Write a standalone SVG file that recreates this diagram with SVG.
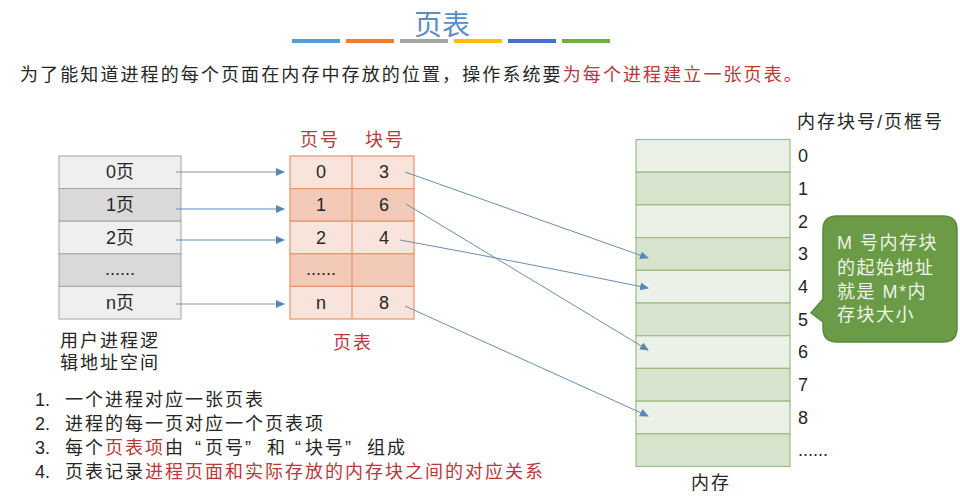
<svg xmlns="http://www.w3.org/2000/svg" width="960" height="497" viewBox="0 0 960 497">
<style>
text{font-family:"Liberation Sans","Noto Sans CJK SC",sans-serif;fill:#262626}
.cjk{font-size:18px;letter-spacing:2px}
.red{fill:#B8383B}
.cell{font-size:18px;text-anchor:middle}
.num{font-size:18px}
.lrow{stroke:#A3A3A3;stroke-width:1}
.prow{stroke:#E8946C;stroke-width:1.2}
.mrow{stroke:#9DBB82;stroke-width:1.2}
.c1{stroke:#5A8CC4;stroke-width:1.2;fill:none}
.c2{stroke:#7E97B0;stroke-width:1.1;fill:none}
.c3{stroke:#6A8DB3;stroke-width:1;fill:none}
</style>
<defs>
<marker id="ah" markerWidth="9" markerHeight="8" refX="8" refY="4" orient="auto" markerUnits="userSpaceOnUse">
<path d="M0,0 L9,4 L0,8 Z" fill="#5A86B8"/>
</marker>
</defs>
<rect width="960" height="497" fill="#FFFFFF"/>

<g id="title">
<text x="442" y="35" text-anchor="middle" style="font-size:28px;fill:#5B8EC4">页表</text>
<rect x="292" y="39" width="48" height="4" fill="#5B9BD5"/>
<rect x="346" y="39" width="48" height="4" fill="#ED7D31"/>
<rect x="400" y="39" width="48" height="4" fill="#A5A5A5"/>
<rect x="454" y="39" width="48" height="4" fill="#FFC000"/>
<rect x="508" y="39" width="48" height="4" fill="#4472C4"/>
<rect x="562" y="39" width="48" height="4" fill="#70AD47"/>
</g>

<g id="intro">
<text x="20" y="81" class="cjk" style="letter-spacing:2.1px">为了能知道进程的每个页面在内存中存放的位置，操作系统要<tspan class="red">为每个进程建立一张页表。</tspan></text>
</g>

<g id="logical-space">
<rect x="59" y="156" width="122" height="32.6" fill="#EFEFEF" class="lrow"/>
<rect x="59" y="188.6" width="122" height="32.6" fill="#D9D9D9" class="lrow"/>
<rect x="59" y="221.2" width="122" height="32.6" fill="#EFEFEF" class="lrow"/>
<rect x="59" y="253.8" width="122" height="32.6" fill="#D9D9D9" class="lrow"/>
<rect x="59" y="286.4" width="122" height="32.6" fill="#EFEFEF" class="lrow"/>
<text x="120" y="178" class="cell">0页</text>
<text x="120" y="210.5" class="cell">1页</text>
<text x="120" y="243.5" class="cell">2页</text>
<text x="120" y="275" class="cell">......</text>
<text x="120" y="309" class="cell">n页</text>
<text x="60" y="347" class="cjk">用户进程逻</text>
<text x="60" y="369" class="cjk">辑地址空间</text>
</g>

<g id="page-table">
<text x="320" y="146" class="cjk red" style="text-anchor:middle">页号</text>
<text x="385" y="146" class="cjk red" style="text-anchor:middle">块号</text>
<rect x="290" y="156" width="124" height="32.6" fill="#F9E4DB" class="prow"/>
<rect x="290" y="188.6" width="124" height="32.6" fill="#F3CAB8" class="prow"/>
<rect x="290" y="221.2" width="124" height="32.6" fill="#F9E4DB" class="prow"/>
<rect x="290" y="253.8" width="124" height="32.6" fill="#F3CAB8" class="prow"/>
<rect x="290" y="286.4" width="124" height="32.6" fill="#F9E4DB" class="prow"/>
<line x1="352" y1="156" x2="352" y2="319" class="prow"/>
<text x="321" y="178" class="cell">0</text>
<text x="321" y="210.5" class="cell">1</text>
<text x="321" y="243.5" class="cell">2</text>
<text x="321" y="275" class="cell">......</text>
<text x="321" y="309" class="cell">n</text>
<text x="384" y="178" class="cell">3</text>
<text x="384" y="210.5" class="cell">6</text>
<text x="384" y="243.5" class="cell">4</text>
<text x="384" y="309" class="cell">8</text>
<text x="353" y="349" class="cjk red" style="text-anchor:middle">页表</text>
</g>

<g id="memory">
<rect x="636" y="139.5" width="154" height="32.7" fill="#EBF1E6" class="mrow"/>
<rect x="636" y="172.2" width="154" height="32.7" fill="#D6E3CD" class="mrow"/>
<rect x="636" y="204.9" width="154" height="32.7" fill="#EBF1E6" class="mrow"/>
<rect x="636" y="237.6" width="154" height="32.7" fill="#D6E3CD" class="mrow"/>
<rect x="636" y="270.3" width="154" height="32.7" fill="#EBF1E6" class="mrow"/>
<rect x="636" y="303" width="154" height="32.7" fill="#D6E3CD" class="mrow"/>
<rect x="636" y="335.7" width="154" height="32.7" fill="#EBF1E6" class="mrow"/>
<rect x="636" y="368.4" width="154" height="32.7" fill="#D6E3CD" class="mrow"/>
<rect x="636" y="401.1" width="154" height="32.7" fill="#EBF1E6" class="mrow"/>
<rect x="636" y="433.8" width="154" height="32.7" fill="#D6E3CD" class="mrow"/>
<text x="797" y="128" class="cjk">内存块号/页框号</text>
<text x="798" y="162" class="num">0</text>
<text x="798" y="194.5" class="num">1</text>
<text x="798" y="227.5" class="num">2</text>
<text x="798" y="260" class="num">3</text>
<text x="798" y="292.5" class="num">4</text>
<text x="798" y="325.5" class="num">5</text>
<text x="798" y="358" class="num">6</text>
<text x="798" y="390.5" class="num">7</text>
<text x="798" y="423.5" class="num">8</text>
<text x="798" y="456" class="num">......</text>
<text x="711" y="489" class="cjk" style="text-anchor:middle">内存</text>
</g>

<g id="callout">
<path d="M837,216 H943 Q957,216 957,230 V328 Q957,342 943,342 H837 Q823,342 823,328 V322 L811,313 L823,299 V230 Q823,216 837,216 Z" fill="#6B9B46" stroke="#5A8A3A" stroke-width="1.5"/>
<text x="837" y="249" class="cjk" style="fill:#EEF4E8;letter-spacing:1.5px">M 号内存块</text>
<text x="837" y="274" class="cjk" style="fill:#EEF4E8;letter-spacing:1.5px">的起始地址</text>
<text x="837" y="298" class="cjk" style="fill:#EEF4E8;letter-spacing:1.5px">就是 M*内</text>
<text x="837" y="321" class="cjk" style="fill:#EEF4E8;letter-spacing:1.5px">存块大小</text>
</g>

<g id="connectors">
<line x1="176" y1="172" x2="284" y2="172" class="c2" marker-end="url(#ah)"/>
<line x1="176" y1="209" x2="284" y2="209" class="c1" marker-end="url(#ah)"/>
<line x1="176" y1="240" x2="284" y2="240" class="c1" marker-end="url(#ah)"/>
<line x1="176" y1="304" x2="284" y2="304" class="c2" marker-end="url(#ah)"/>
<line x1="405" y1="172" x2="648" y2="258" class="c3" marker-end="url(#ah)"/>
<line x1="406" y1="204" x2="648" y2="350" class="c3" marker-end="url(#ah)"/>
<path d="M400,240 Q520,262 648,288" class="c3" marker-end="url(#ah)"/>
<line x1="405" y1="306" x2="648" y2="416" class="c3" marker-end="url(#ah)"/>
</g>

<g id="notes">
<text x="35" y="406" class="num">1.</text>
<text x="65" y="406" class="cjk">一个进程对应一张页表</text>
<text x="35" y="430" class="num">2.</text>
<text x="65" y="430" class="cjk">进程的每一页对应一个页表项</text>
<text x="35" y="454" class="num">3.</text>
<text x="65" y="454" class="cjk">每个<tspan class="red">页表项</tspan></text>
<text y="454" style="font-size:18px"><tspan x="165 195 205 225 245 267 295 305 325 345 367 387">由“页号”和“块号”组成</tspan></text>
<text x="35" y="478" class="num">4.</text>
<text x="65" y="478" class="cjk">页表记录<tspan class="red">进程页面和实际存放的内存块之间的对应关系</tspan></text>
</g>
</svg>
